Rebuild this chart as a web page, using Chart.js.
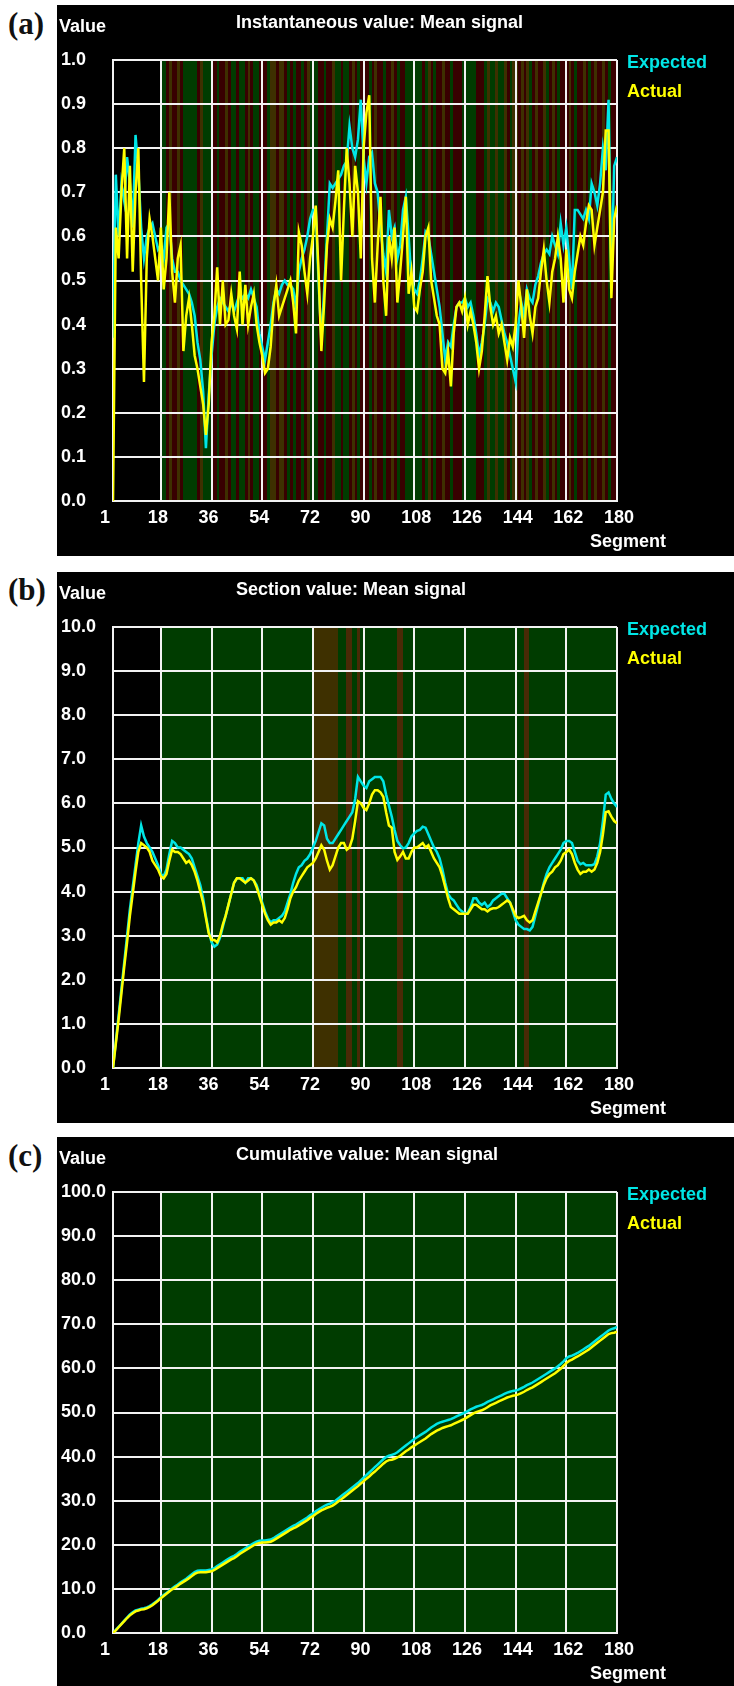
<!DOCTYPE html>
<html>
<head>
<meta charset="utf-8">
<script src="https://cdn.jsdelivr.net/npm/chart.js@4.4.0/dist/chart.umd.min.js"></script>
<style>
  body { margin: 0; background: #fff; width: 734px; height: 1686px; position: relative; overflow: hidden; }
  .panel { position: absolute; left: 57px; width: 677px; height: 551px; background: #000; }
  .tag { position: absolute; left: 8px; font: bold 31px "Liberation Serif", "Times New Roman", serif; color: #111; line-height: 1; }
  canvas { display: block; }
</style>
</head>
<body>
<div class="tag" style="top:8px">(a)</div>
<div class="panel" style="top:5px"><canvas id="chartA" width="677" height="551"></canvas></div>
<div class="tag" style="top:574px">(b)</div>
<div class="panel" style="top:572px"><canvas id="chartB" width="677" height="551"></canvas></div>
<div class="tag" style="top:1140px">(c)</div>
<div class="panel" style="top:1137px"><canvas id="chartC" width="677" height="551"></canvas></div>

<script>
// segments 1..180, grid ticks every 18
const segments = Array.from({ length: 180 }, (_, i) => i + 1);
const xTicks = [1, 18, 36, 54, 72, 90, 108, 126, 144, 162, 180];

// (a) instantaneous value
const instExpected = [
  0.37, 0.74, 0.60, 0.72, 0.68, 0.78, 0.72, 0.62, 0.83, 0.75, 0.62, 0.55, 0.60, 0.62, 0.63, 0.60, 0.57, 0.58,
  0.55, 0.62, 0.63, 0.55, 0.52, 0.52, 0.50, 0.49, 0.48, 0.47, 0.45, 0.42, 0.36, 0.32, 0.25, 0.12, 0.24, 0.33,
  0.40, 0.44, 0.46, 0.45, 0.44, 0.43, 0.45, 0.43, 0.45, 0.47, 0.46, 0.47, 0.46, 0.48, 0.46, 0.44, 0.38, 0.35,
  0.32, 0.36, 0.40, 0.45, 0.48, 0.47, 0.49, 0.50, 0.49, 0.49, 0.48, 0.44, 0.52, 0.55, 0.57, 0.60, 0.64, 0.66,
  0.66, 0.50, 0.36, 0.48, 0.60, 0.72, 0.71, 0.72, 0.73, 0.74, 0.76, 0.77, 0.85, 0.80, 0.78, 0.82, 0.91, 0.78,
  0.72, 0.78, 0.79, 0.72, 0.70, 0.62, 0.56, 0.52, 0.66, 0.60, 0.62, 0.55, 0.58, 0.66, 0.69, 0.60, 0.50, 0.48,
  0.47, 0.50, 0.55, 0.61, 0.60, 0.56, 0.52, 0.48, 0.44, 0.38, 0.32, 0.36, 0.35, 0.40, 0.44, 0.45, 0.45, 0.46,
  0.44, 0.45, 0.42, 0.38, 0.33, 0.36, 0.40, 0.46, 0.45, 0.43, 0.45, 0.44, 0.41, 0.38, 0.36, 0.33, 0.30, 0.27,
  0.40, 0.45, 0.42, 0.48, 0.46, 0.45, 0.49, 0.51, 0.54, 0.56, 0.57, 0.56, 0.60, 0.58, 0.56, 0.63, 0.58, 0.62,
  0.55, 0.48, 0.66, 0.66, 0.65, 0.64, 0.66, 0.64, 0.72, 0.70, 0.67, 0.72, 0.80, 0.75, 0.91, 0.50, 0.76, 0.78
];
const instActual = [
  0.00, 0.62, 0.55, 0.70, 0.80, 0.55, 0.76, 0.52, 0.70, 0.80, 0.50, 0.27, 0.55, 0.64, 0.60, 0.55, 0.50, 0.62,
  0.48, 0.55, 0.70, 0.52, 0.45, 0.55, 0.58, 0.34, 0.42, 0.46, 0.40, 0.33, 0.30, 0.26, 0.22, 0.15, 0.22, 0.36,
  0.42, 0.53, 0.40, 0.50, 0.40, 0.41, 0.47, 0.42, 0.39, 0.52, 0.40, 0.49, 0.40, 0.44, 0.47, 0.40, 0.36, 0.33,
  0.29, 0.30, 0.35, 0.44, 0.49, 0.42, 0.44, 0.46, 0.48, 0.50, 0.45, 0.38, 0.61, 0.58, 0.52, 0.47, 0.55, 0.60,
  0.67, 0.52, 0.34, 0.45, 0.58, 0.64, 0.62, 0.68, 0.75, 0.50, 0.66, 0.80, 0.72, 0.60, 0.76, 0.70, 0.55, 0.80,
  0.88, 0.92, 0.55, 0.45, 0.58, 0.69, 0.50, 0.42, 0.60, 0.55, 0.62, 0.45, 0.52, 0.60, 0.69, 0.47, 0.52, 0.44,
  0.43, 0.48, 0.52, 0.60, 0.62, 0.50, 0.46, 0.42, 0.40, 0.30, 0.29, 0.34, 0.26, 0.38, 0.44, 0.45, 0.43, 0.46,
  0.40, 0.43, 0.40, 0.36, 0.30, 0.34, 0.42, 0.51, 0.44, 0.40, 0.42, 0.38, 0.40, 0.36, 0.32, 0.37, 0.35, 0.40,
  0.50, 0.44, 0.37, 0.48, 0.42, 0.38, 0.44, 0.46, 0.52, 0.57, 0.50, 0.45, 0.52, 0.55, 0.60, 0.55, 0.45, 0.57,
  0.48, 0.46, 0.52, 0.56, 0.60, 0.58, 0.63, 0.67, 0.66, 0.58, 0.62, 0.66, 0.70, 0.84, 0.84, 0.46, 0.64, 0.67
];

// (b) section value
const sectExpected = [
  0.00, 0.60, 1.20, 1.80, 2.40, 3.00, 3.60, 4.10, 4.60, 5.10, 5.50, 5.25, 5.10, 5.00, 4.90, 4.75, 4.60, 4.40,
  4.35, 4.50, 4.85, 5.15, 5.10, 5.00, 5.00, 4.95, 4.90, 4.85, 4.75, 4.55, 4.35, 4.15, 3.85, 3.45, 3.10, 2.85,
  2.75, 2.80, 2.95, 3.20, 3.45, 3.70, 3.95, 4.20, 4.30, 4.30, 4.30, 4.20, 4.30, 4.30, 4.25, 4.15, 3.95, 3.75,
  3.55, 3.40, 3.30, 3.35, 3.35, 3.40, 3.45, 3.55, 3.75, 3.95, 4.20, 4.40, 4.55, 4.60, 4.70, 4.75, 4.85, 5.00,
  5.15, 5.35, 5.55, 5.50, 5.20, 5.10, 5.10, 5.20, 5.30, 5.40, 5.50, 5.60, 5.70, 5.80, 6.10, 6.60, 6.50, 6.40,
  6.35, 6.50, 6.55, 6.60, 6.60, 6.60, 6.50, 6.20, 5.95, 5.70, 5.40, 5.15, 5.05, 4.98, 5.00, 5.10, 5.25, 5.32,
  5.38, 5.40, 5.47, 5.45, 5.30, 5.15, 5.00, 4.90, 4.75, 4.50, 4.20, 3.95, 3.85, 3.80, 3.70, 3.60, 3.55, 3.50,
  3.52, 3.65, 3.85, 3.85, 3.75, 3.70, 3.75, 3.65, 3.70, 3.80, 3.85, 3.90, 3.95, 3.95, 3.85, 3.75, 3.55, 3.35,
  3.25, 3.20, 3.15, 3.15, 3.12, 3.20, 3.45, 3.70, 3.95, 4.20, 4.40, 4.55, 4.65, 4.75, 4.85, 4.95, 5.10, 5.15,
  5.15, 5.10, 4.90, 4.70, 4.62, 4.65, 4.60, 4.60, 4.60, 4.62, 4.80, 5.10, 5.60, 6.20, 6.25, 6.10, 6.00, 5.92
];
const sectActual = [
  0.00, 0.55, 1.10, 1.70, 2.30, 2.85, 3.45, 3.95, 4.45, 4.90, 5.10, 5.05, 5.00, 4.90, 4.70, 4.60, 4.50, 4.35,
  4.30, 4.40, 4.70, 4.95, 4.90, 4.90, 4.85, 4.75, 4.65, 4.70, 4.60, 4.45, 4.25, 4.00, 3.75, 3.40, 3.05, 2.90,
  2.90, 2.85, 3.00, 3.25, 3.45, 3.70, 3.95, 4.20, 4.30, 4.30, 4.25, 4.20, 4.25, 4.30, 4.25, 4.10, 3.90, 3.70,
  3.50, 3.35, 3.25, 3.30, 3.30, 3.35, 3.30, 3.40, 3.60, 3.85, 4.00, 4.10, 4.25, 4.35, 4.45, 4.55, 4.60, 4.65,
  4.75, 4.90, 5.05, 4.95, 4.70, 4.50, 4.60, 4.80, 5.00, 5.10, 5.10, 4.95, 5.00, 5.20, 5.60, 6.05, 6.00, 5.90,
  5.85, 6.00, 6.20, 6.30, 6.30, 6.25, 6.15, 5.80, 5.50, 5.45, 4.90, 4.72, 4.80, 4.90, 4.75, 4.75, 4.90, 5.00,
  5.00, 5.05, 5.10, 5.00, 5.05, 4.90, 4.75, 4.65, 4.55, 4.35, 4.10, 3.85, 3.65, 3.60, 3.55, 3.50, 3.50, 3.50,
  3.50, 3.60, 3.70, 3.70, 3.65, 3.60, 3.60, 3.55, 3.60, 3.62, 3.62, 3.65, 3.70, 3.75, 3.80, 3.75, 3.60, 3.45,
  3.40, 3.42, 3.45, 3.35, 3.30, 3.35, 3.55, 3.75, 3.95, 4.15, 4.30, 4.40, 4.45, 4.55, 4.60, 4.70, 4.85, 4.90,
  4.95, 4.85, 4.65, 4.50, 4.40, 4.45, 4.45, 4.50, 4.45, 4.50, 4.65, 4.90, 5.30, 5.80, 5.82, 5.70, 5.60, 5.55
];

// (c) cumulative value
const cumExpected = [
  0.0, 0.7, 1.4, 2.1, 2.8, 3.5, 4.2, 4.7, 5.1, 5.3, 5.5, 5.6, 5.8, 6.1, 6.5, 7.0, 7.5, 8.1,
  8.6, 9.1, 9.6, 10.1, 10.6, 11.0, 11.5, 11.9, 12.3, 12.8, 13.3, 13.8, 14.1, 14.2, 14.2, 14.2, 14.3, 14.4,
  14.7, 15.2, 15.6, 16.0, 16.4, 16.8, 17.2, 17.5, 17.9, 18.4, 18.8, 19.2, 19.6, 20.0, 20.4, 20.7, 20.9, 21.0,
  21.0, 21.1, 21.2, 21.5, 21.9, 22.3, 22.7, 23.1, 23.5, 23.9, 24.3, 24.6, 25.0, 25.4, 25.8, 26.2, 26.7, 27.1,
  27.6, 28.0, 28.4, 28.8, 29.1, 29.3, 29.6, 30.0, 30.5, 31.0, 31.5, 32.0, 32.5, 33.0, 33.5, 34.0, 34.6, 35.2,
  35.8, 36.4, 37.0, 37.6, 38.2, 38.8, 39.4, 39.9, 40.2, 40.4, 40.6, 41.0, 41.5, 42.0, 42.5, 43.0, 43.5, 44.0,
  44.4, 44.8, 45.2, 45.6, 46.1, 46.6, 47.0, 47.4, 47.7, 47.9, 48.1, 48.3, 48.5, 48.8, 49.1, 49.4, 49.7, 50.0,
  50.3, 50.7, 51.0, 51.3, 51.5, 51.7, 52.0, 52.4, 52.7, 53.0, 53.3, 53.6, 53.9, 54.2, 54.5, 54.7, 54.9, 55.0,
  55.2, 55.5, 55.8, 56.2, 56.5, 56.8, 57.2, 57.6, 58.0, 58.4, 58.8, 59.2, 59.6, 60.0, 60.5, 61.0, 61.6, 62.3,
  62.7, 62.9, 63.2, 63.5, 63.9, 64.3, 64.7, 65.1, 65.6, 66.1, 66.6, 67.1, 67.6, 68.1, 68.6, 68.9, 69.1, 69.4
];
const cumActual = [
  0.0, 0.6, 1.3, 2.0, 2.7, 3.4, 4.0, 4.5, 4.9, 5.1, 5.3, 5.4, 5.6, 5.9, 6.3, 6.8, 7.3, 7.9,
  8.4, 8.9, 9.4, 9.9, 10.3, 10.7, 11.2, 11.6, 12.0, 12.4, 12.9, 13.4, 13.7, 13.8, 13.8, 13.8, 13.9, 14.0,
  14.3, 14.7, 15.1, 15.5, 15.9, 16.3, 16.7, 17.0, 17.4, 17.9, 18.3, 18.7, 19.1, 19.5, 19.9, 20.2, 20.4, 20.5,
  20.5, 20.6, 20.7, 21.0, 21.4, 21.8, 22.2, 22.6, 23.0, 23.4, 23.7, 24.0, 24.4, 24.8, 25.2, 25.6, 26.1, 26.5,
  27.0, 27.4, 27.8, 28.1, 28.4, 28.6, 28.9, 29.3, 29.8, 30.3, 30.8, 31.3, 31.8, 32.3, 32.8, 33.3, 33.9, 34.4,
  35.0, 35.5, 36.1, 36.6, 37.2, 37.8, 38.4, 38.9, 39.2, 39.3, 39.5, 39.8, 40.2, 40.7, 41.2, 41.6, 42.1, 42.5,
  42.9, 43.3, 43.7, 44.1, 44.6, 45.1, 45.5, 45.9, 46.2, 46.5, 46.7, 46.9, 47.1, 47.4, 47.7, 48.0, 48.3, 48.6,
  49.0, 49.4, 49.8, 50.1, 50.3, 50.5, 50.8, 51.2, 51.6, 51.9, 52.2, 52.5, 52.8, 53.1, 53.4, 53.6, 53.8, 53.9,
  54.1, 54.4, 54.7, 55.1, 55.4, 55.7, 56.1, 56.5, 56.9, 57.3, 57.7, 58.1, 58.5, 58.9, 59.4, 59.9, 60.6, 61.2,
  61.7, 62.0, 62.4, 62.7, 63.1, 63.5, 63.9, 64.3, 64.8, 65.3, 65.8, 66.3, 66.8, 67.3, 67.8, 68.0, 68.1, 68.3
];

// background status per segment, segments 19..180 (one string per grid column)
// G = green, R = red, O = olive, B = brown
const instBands = [
  'GGRORRORGGGGGROGGG', 'RRGRRORGGRGGRORGGR', 'RRGOOROORGRGRRGROG',
  'GGRRGRROGGRGGRORGR', 'RRGRORRGRRORGRRGGG', 'GGGRGORGRRORRGRRRG',
  'GGGGRRRGOGGOGGORGO', 'OROROGRORROGRORGRR', 'RORGRRORGRORRORGRR'
].join('');
const sectBands = [
  'GGGGGGGGGGGGGGGGGG', 'GGGGGGGGGGGGGGGGGG', 'GGGGGGGGGGGGGGGGGG',
  'OOOOOOOOOGGGBBGGBG', 'GGGGGGGGGGGGBBGGGG', 'GGGGGGGGGGGGGGGGGG',
  'GGGGGGGGGGGGGGGGGG', 'GGGBBGGGGGGGGGGGGG', 'GGGGGGGGGGGGGGGGGG'
].join('');
const cumBands = [
  'GGGGGGGGGGGGGGGGGG', 'GGGGGGGGGGGGGGGGGG', 'GGGGGGGGGGGGGGGGGG',
  'GGGGGGGGGGGGGGGGGG', 'GGGGGGGGGGGGGGGGGG', 'GGGGGGGGGGGGGGGGGG',
  'GGGGGGGGGGGGGGGGGG', 'GGGGGGGGGGGGGGGGGG', 'GGGGGGGGGGGGGGGGGG'
].join('');
const bandColors = { G: '#003c00', R: '#380000', O: '#3e3000', B: '#4a2a06' };

Chart.defaults.font.family = '"Liberation Sans", Arial, sans-serif';
Chart.defaults.font.weight = 'bold';
Chart.defaults.font.size = 18;
Chart.defaults.color = '#fff';

// colour bands behind the grid
const bandPlugin = {
  id: 'bands',
  beforeDraw(chart, args, opts) {
    const { ctx, chartArea, scales: { x } } = chart;
    ctx.save();
    opts.codes.split('').forEach((c, i) => {
      const seg = 19 + i;
      const x0 = Math.floor(x.getPixelForValue(seg - 1));
      const x1 = Math.ceil(x.getPixelForValue(seg));
      ctx.fillStyle = bandColors[c];
      ctx.fillRect(x0, chartArea.top, x1 - x0, chartArea.bottom - chartArea.top);
    });
    ctx.restore();
  }
};

// title, axis names and coloured legend text
const textPlugin = {
  id: 'texts',
  afterDraw(chart, args, opts) {
    const ctx = chart.ctx;
    ctx.save();
    ctx.font = 'bold 18px "Liberation Sans", Arial, sans-serif';
    ctx.textBaseline = 'alphabetic';
    ctx.fillStyle = '#fff';
    ctx.fillText(opts.title, 179, 23);
    ctx.fillText('Value', 2, 27);
    ctx.fillText('Segment', 533, 542);
    chart.data.datasets.forEach((ds, i) => {
      ctx.fillStyle = ds.borderColor;
      ctx.fillText(ds.label, 570, 63 + i * 29);
    });
    ctx.restore();
  }
};

function makeChart(id, title, expected, actual, yMax, yStep, bands) {
  new Chart(document.getElementById(id), {
    type: 'line',
    data: {
      datasets: [
        {
          label: 'Expected',
          data: expected.map((v, i) => ({ x: segments[i], y: v })),
          borderColor: '#00e6e6',
          borderWidth: 2.5,
          pointRadius: 0,
          tension: 0,
          order: 2
        },
        {
          label: 'Actual',
          data: actual.map((v, i) => ({ x: segments[i], y: v })),
          borderColor: '#ffff00',
          borderWidth: 2.5,
          pointRadius: 0,
          tension: 0,
          order: 1
        }
      ]
    },
    options: {
      responsive: false,
      animation: false,
      layout: { padding: { top: 55, right: 117, bottom: 0, left: 4 } },
      scales: {
        x: {
          type: 'linear',
          min: 1,
          max: 180,
          afterBuildTicks: (s) => { s.ticks = xTicks.map(v => ({ value: v })); },
          afterFit: (s) => { s.height = 55; },
          grid: { color: '#f2f2f2', lineWidth: 2, drawTicks: false },
          border: { color: '#f2f2f2', width: 2 },
          ticks: { autoSkip: false, maxRotation: 0, align: 'start', labelOffset: -13, padding: 6, color: '#fff' }
        },
        y: {
          min: 0,
          max: yMax,
          afterFit: (s) => { s.width = 52; },
          grid: { color: '#f2f2f2', lineWidth: 2, drawTicks: false },
          border: { color: '#f2f2f2', width: 2 },
          ticks: { stepSize: yStep, crossAlign: 'far', color: '#fff', callback: v => v.toFixed(1) }
        }
      },
      plugins: {
        legend: { display: false },
        tooltip: { enabled: false },
        bands: { codes: bands },
        texts: { title: title }
      }
    },
    plugins: [bandPlugin, textPlugin]
  });
}

makeChart('chartA', 'Instantaneous value: Mean signal', instExpected, instActual, 1, 0.1, instBands);
makeChart('chartB', 'Section value: Mean signal', sectExpected, sectActual, 10, 1, sectBands);
makeChart('chartC', 'Cumulative value: Mean signal', cumExpected, cumActual, 100, 10, cumBands);
</script>
</body>
</html>
